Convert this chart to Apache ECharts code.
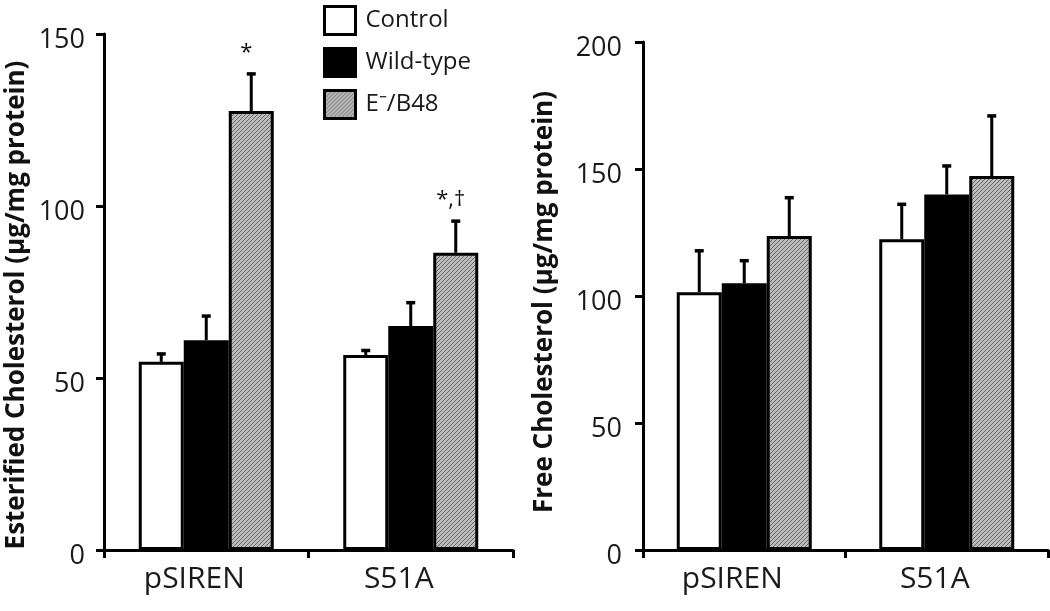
<!DOCTYPE html>
<html>
<head>
<meta charset="utf-8">
<script src="https://cdn.jsdelivr.net/npm/echarts@6/dist/echarts.min.js"></script>
<style>html,body{margin:0;padding:0;background:#fff;}#c{width:1050px;height:611px;}</style>
</head>
<body>
<div id="c"></div>
<script>
// ---- data ----
const categories = ['pSIREN', 'S51A'];
const seriesNames = ['Control', 'Wild-type', 'E\u207B/B48'];

const esterControl = [54.7, 56.7];
const esterWild = [61.0, 65.1];
const esterEB48 = [127.6, 86.4];
const esterControlErr = [2.3, 1.3];
const esterWildErr = [7.0, 6.8];
const esterEB48Err = [10.8, 9.2];
const esterEB48Notes = ['*', '*,\u2020'];

const freeControl = [101.5, 122.3];
const freeWild = [105.0, 140.0];
const freeEB48 = [123.6, 147.2];
const freeControlErr = [16.3, 13.8];
const freeWildErr = [8.9, 11.2];
const freeEB48Err = [15.1, 23.7];

const esterAxis = { min: 0, max: 150, interval: 50 };
const freeAxis = { min: 0, max: 200, interval: 50 };
const esterTitle = 'Esterified Cholesterol (\u00B5g/mg protein)';
const freeTitle = 'Free Cholesterol (\u00B5g/mg protein)';

// ---- styles ----
const BAR_W = 45;
const FONT = '"Open Sans", "Liberation Sans", sans-serif';

function makeHatch() {
  const c = document.createElement('canvas');
  c.width = 4; c.height = 4;
  const g = c.getContext('2d');
  g.fillStyle = '#bcbcbc';
  g.fillRect(0, 0, 4, 4);
  g.strokeStyle = '#666666';
  g.lineWidth = 1;
  g.beginPath();
  g.moveTo(-1, 5); g.lineTo(5, -1);
  g.moveTo(-1, 1); g.lineTo(1, -1);
  g.moveTo(3, 5); g.lineTo(5, 3);
  g.stroke();
  return c;
}
const hatch = { image: makeHatch(), repeat: 'repeat' };
const fills = ['#ffffff', '#000000', hatch];

function barSeries(name, data, gi, axisIdx) {
  return {
    type: 'bar', name: name, data: data,
    xAxisIndex: axisIdx, yAxisIndex: axisIdx,
    barWidth: BAR_W, barGap: '0%',
    itemStyle: { color: fills[gi], borderColor: '#000', borderWidth: 3 },
    z: 2
  };
}

function errSeries(name, means, errs, gi, axisIdx, notes) {
  return {
    type: 'custom', name: name,
    xAxisIndex: axisIdx, yAxisIndex: axisIdx,
    data: means.map((m, k) => [k, m, m + errs[k]]),
    z: 3,
    renderItem: function (params, api) {
      const cat = api.value(0);
      const p0 = api.coord([cat, api.value(1)]);
      const p1 = api.coord([cat, api.value(2)]);
      const x = p0[0] + (gi - 1) * BAR_W;
      const children = [
        { type: 'line', shape: { x1: x, y1: p0[1], x2: x, y2: p1[1] }, style: { stroke: '#000', lineWidth: 3 } },
        { type: 'line', shape: { x1: x - 4.5, y1: p1[1], x2: x + 4.5, y2: p1[1] }, style: { stroke: '#000', lineWidth: 3.5 } }
      ];
      const note = notes ? notes[params.dataIndex] : '';
      if (note) {
        children.push({
          type: 'text',
          style: { text: note, x: x - 5, y: p1[1] - 10, textAlign: 'center', textVerticalAlign: 'bottom', font: '22px ' + FONT, fill: '#111' }
        });
      }
      return { type: 'group', children: children };
    }
  };
}

function yAxisCfg(ax, gridIdx, margin) {
  return {
    type: 'value', gridIndex: gridIdx,
    min: ax.min, max: ax.max, interval: ax.interval,
    splitLine: { show: false },
    axisLine: { show: true, lineStyle: { color: '#000', width: 3 } },
    axisTick: { show: true, length: 8, lineStyle: { color: '#000', width: 3 } },
    axisLabel: {
      margin: margin,
      formatter: v => '{t|' + v + '}',
      rich: { t: { fontSize: 27, fontFamily: FONT, color: '#1a1a1a', padding: [12, 0, 0, 0] } }
    }
  };
}
function xAxisCfg(gridIdx) {
  return {
    type: 'category', gridIndex: gridIdx, data: categories,
    axisLine: { show: true, lineStyle: { color: '#000', width: 3 } },
    axisTick: { show: true, length: 8, lineStyle: { color: '#000', width: 3 } },
    axisLabel: { fontSize: 30, fontFamily: FONT, color: '#1a1a1a', margin: 14, padding: [0, 24, 0, 0] }
  };
}

const chart = echarts.init(document.getElementById('c'), null, { renderer: 'canvas' });
chart.setOption({
  animation: false,
  backgroundColor: '#fff',
  grid: [
    { left: 104, top: 34, width: 409, height: 516 },
    { left: 643, top: 42, width: 405, height: 508 }
  ],
  xAxis: [xAxisCfg(0), xAxisCfg(1)],
  yAxis: [yAxisCfg(esterAxis, 0, 19), yAxisCfg(freeAxis, 1, 21)],
  legend: {
    data: seriesNames,
    orient: 'vertical', left: 318, top: 0,
    itemWidth: 31, itemHeight: 28, itemGap: 11,
    icon: 'rect',
    itemStyle: { borderColor: '#000', borderWidth: 3 },
    textStyle: { fontSize: 24, fontFamily: FONT, color: '#1a1a1a', padding: [0, 0, 0, 5] },
    selectedMode: false
  },
  graphic: [
    { type: 'text', x: 17, y: 305, rotation: Math.PI / 2,
      style: { text: esterTitle, font: 'bold 26px ' + FONT, fill: '#111', textAlign: 'center', textVerticalAlign: 'middle' } },
    { type: 'text', x: 545, y: 302, rotation: Math.PI / 2,
      style: { text: freeTitle, font: 'bold 26px ' + FONT, fill: '#111', textAlign: 'center', textVerticalAlign: 'middle' } }
  ],
  series: [
    barSeries(seriesNames[0], esterControl, 0, 0),
    barSeries(seriesNames[1], esterWild, 1, 0),
    barSeries(seriesNames[2], esterEB48, 2, 0),
    errSeries(seriesNames[0], esterControl, esterControlErr, 0, 0, null),
    errSeries(seriesNames[1], esterWild, esterWildErr, 1, 0, null),
    errSeries(seriesNames[2], esterEB48, esterEB48Err, 2, 0, esterEB48Notes),
    barSeries(seriesNames[0], freeControl, 0, 1),
    barSeries(seriesNames[1], freeWild, 1, 1),
    barSeries(seriesNames[2], freeEB48, 2, 1),
    errSeries(seriesNames[0], freeControl, freeControlErr, 0, 1, null),
    errSeries(seriesNames[1], freeWild, freeWildErr, 1, 1, null),
    errSeries(seriesNames[2], freeEB48, freeEB48Err, 2, 1, null)
  ]
});
</script>
</body>
</html>
